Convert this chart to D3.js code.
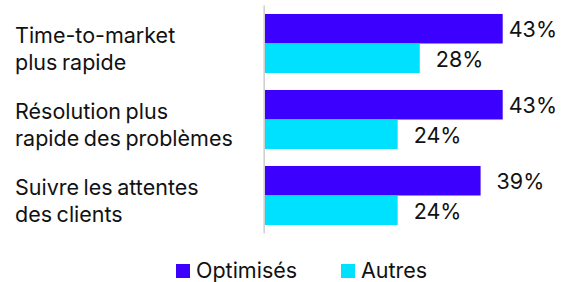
<!DOCTYPE html>
<html><head><meta charset="utf-8">
<script src="https://cdn.jsdelivr.net/npm/d3@7"></script>
<style>
html,body{margin:0;padding:0;background:#fff;}
svg text{font-family:Inter,"Liberation Sans",Arial,sans-serif;fill:#111;}
</style></head>
<body><svg id="c" width="567" height="282"></svg>
<script>
const categories = [["Time-to-market","plus rapide"],["Résolution plus","rapide des problèmes"],["Suivre les attentes","des clients"]];
const seriesNames = ["Optimisés","Autres"];
const optimises = [43,43,39];
const autres = [28,24,24];
const colors = ["#3C00FF","#00E1FF"];

const svg = d3.select("#c");
const keys = categories.map((c,i)=>"c"+i);
const y = d3.scaleBand().domain(keys).range([5.5,233.5]).paddingInner(0.223).paddingOuter(0.1115);
const ySub = d3.scaleBand().domain(seriesNames).range([0,y.bandwidth()]);
const x = d3.scaleLinear().domain([0,50]).range([265,541.4]);

const rows = [];
categories.forEach((c,i)=>{
  rows.push({k:keys[i],s:seriesNames[0],v:optimises[i]});
  rows.push({k:keys[i],s:seriesNames[1],v:autres[i]});
});

svg.append("g").selectAll("rect").data(rows).join("rect")
  .attr("x",x(0)).attr("y",d=>y(d.k)+ySub(d.s))
  .attr("width",d=>x(d.v)-x(0)).attr("height",ySub.bandwidth())
  .attr("fill",d=>colors[seriesNames.indexOf(d.s)]);

svg.append("line").attr("x1",x(0)-0.8).attr("x2",x(0)-0.8).attr("y1",y.range()[0]).attr("y2",y.range()[1])
  .attr("stroke","#d0d0d0").attr("stroke-width",1.6);

const lbl = svg.append("g").selectAll("text").data(rows).join("text")
  .attr("y",d=>y(d.k)+ySub(d.s)+ySub.bandwidth()/2+1)
  .attr("dy","0.35em").style("font-size","21.5px")
  .text(d=>d.v+"%");
lbl.each(function(d){
  const w=this.getComputedTextLength();
  d3.select(this).attr("x",Math.min(x(d.v)+16,557-w));
});

const cat = svg.append("g").selectAll("text").data(categories).join("text")
  .attr("x",15).style("font-size","21.5px").style("word-spacing","-1.5px");
cat.each(function(c,i){
  const yc = y(keys[i])+y.bandwidth()/2-1;
  d3.select(this).selectAll("tspan").data(c).join("tspan")
    .attr("x",15).attr("y",(d,j)=>yc+j*27.3).text(d=>d);
});

const leg = svg.append("g");
const legX = [176,341];
seriesNames.forEach((s,i)=>{
  leg.append("rect").attr("x",legX[i]).attr("y",264).attr("width",14).attr("height",14).attr("fill",colors[i]);
  leg.append("text").attr("x",legX[i]+20).attr("y",278).style("font-size","21.5px").text(s);
});
</script></body></html>
